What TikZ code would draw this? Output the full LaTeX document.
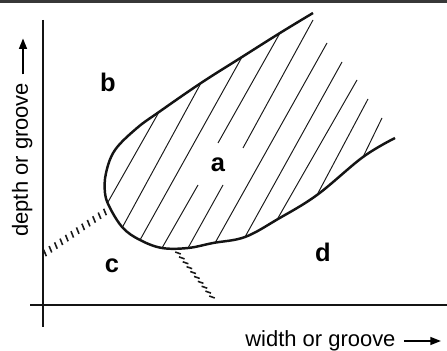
\documentclass[tikz,border=0pt]{standalone}
\usepackage{fontspec}
\setmainfont{Liberation Sans}
\usetikzlibrary{arrows.meta, calc}

\begin{document}
\begin{tikzpicture}[
        x=0.02cm, y=-0.02cm,
        rule/.style={line width=1.8pt, draw=black!78},
        axis/.style={line width=1.6pt, draw=black!92},
        bound/.style={line width=1.4pt, draw=black!92},
        hatch/.style={line width=0.55pt, draw=black!90},
        tickmark/.style={line width=0.9pt, draw=black!90},
        arr/.style={-{Triangle[length=2.1mm, width=1.6mm]}, line width=0.8pt},
        lbl/.style={font=\fontsize{12.5}{14}\selectfont, inner sep=0pt},
        region/.style={font=\fontsize{14.5}{16}\selectfont\bfseries, inner sep=0pt}
        ]
        \useasboundingbox (0,0) rectangle (447,351);
        % frame rule and axes
        \draw[rule] (0,1.6) -- (447,1.6);
        \coordinate (yt) at (43,20);
        \coordinate (yb) at (43,327);
        \coordinate (xl) at (30,305);
        \coordinate (xr) at (447,305);
        \draw[axis] (yt) -- (yb);
        \draw[axis] (xl) -- (xr);
        % axis labels
        \node[lbl, anchor=base west] (xlab) at (245,347) {width or groove};
        \draw[arr] ([shift={(8,-6)}]xlab.base east) -- ++(37,0);
        \node[lbl, anchor=base west, rotate=90] (ylab) at (28,237) {depth or groove};
        \draw[arr] ([shift={(-5,-8)}]ylab.base east) -- ++(0,-36);
        % boundary of region a
        \draw[bound] plot[smooth, tension=0.6] coordinates {
            (313,13) (280,33) (242,57) (201,83) (159,112) (137,128) (115,150)
            (106,173) (105,193) (110,208) (123,228) (140,240) (162,248) (188,248)
            (213,243) (245,237) (278,219) (317,195) (363,157) (395,138)};
        % hatching
        \foreach \ax/\ay/\bx/\by in {108/202/159/112, 122/228/201/83, 140/240/242/57,
            162/248/198/185, 218/143/280/33, 188/248/223/185, 243/148/313/20,
            215/243/327/43, 245/237/342/62, 278/218/357/80, 317/195/368/99, 363/157/382/118}
            \draw[hatch] (\ax,\ay) -- (\bx,\by);
        % borders of region c
        \coordinate (c1a) at (45,253);
        \coordinate (c1b) at (105,212);
        \coordinate (c2a) at (178,253);
        \coordinate (c2b) at (212,297);
        \foreach \t in {0,...,11}
            \draw[tickmark] ($(c1a)!\t/11!(c1b)$) +(-1.3,-3.2) -- +(1.3,3.2);
        \foreach \t in {0,...,9}
            \draw[tickmark] ($(c2a)!\t/9!(c2b)$) +(-2.8,-1) -- +(2.8,1);
        % region letters
        \node[region] (a) at (218,165) {a};
        \node[region] (b) at (108,82) {b};
        \node[region] (c) at (112,266) {c};
        \node[region] (d) at (323,252) {d};
    \end{tikzpicture}
\end{document}
